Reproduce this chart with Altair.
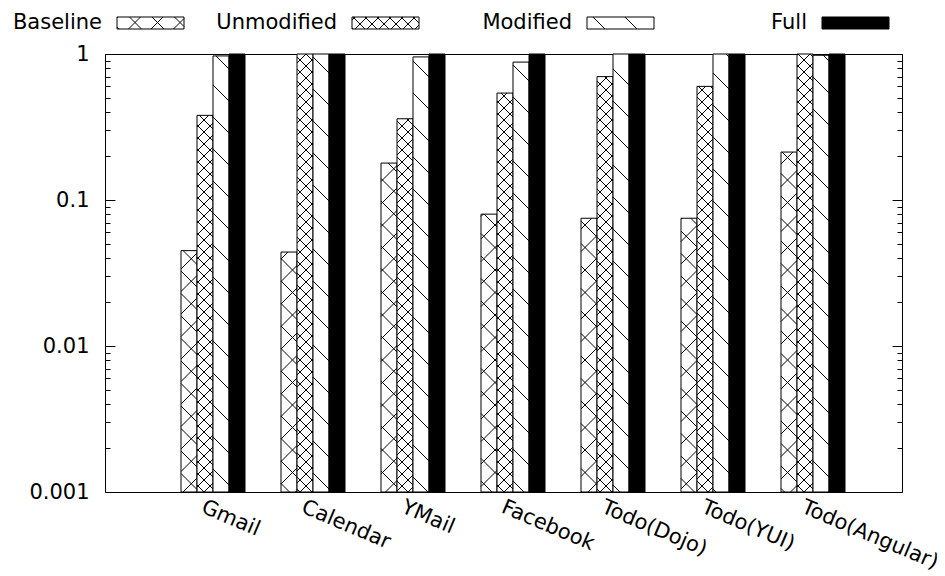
import math
import altair as alt
import pandas as pd

# ---------------- data ----------------
apps = ["Gmail", "Calendar", "YMail", "Facebook", "Todo(Dojo)", "Todo(YUI)", "Todo(Angular)"]
series_names = ["Baseline", "Unmodified", "Modified", "Full"]
baseline = [0.045, 0.044, 0.179, 0.080, 0.075, 0.075, 0.213]
unmodified = [0.38, 1.0, 0.36, 0.54, 0.70, 0.60, 1.0]
modified = [0.97, 1.0, 0.955, 0.88, 1.0, 1.0, 0.98]
full = [1.0, 1.0, 1.0, 1.0, 1.0, 1.0, 1.0]
y_major = [0.001, 0.01, 0.1, 1]
y_minor = [k * d for d in (0.001, 0.01, 0.1) for k in range(2, 10)]

# ---------------- style / layout ----------------
FONT = "DejaVu Sans"
FS = 21
XFS = 21
W, H = 797, 438
PAD = {"left": 105, "top": 54, "right": 43, "bottom": 84}
GROUP_PX = 100.0
XMIN = -1.08
XMAX = XMIN + W / GROUP_PX
DEC = H / 3.0
BAR_W = 0.16
OFFSETS = [-0.24, -0.08, 0.08, 0.24]
PATTERNS = {"Baseline": ("x", 22.5), "Unmodified": ("x", 12.0),
            "Modified": ("\\", 32.0), "Full": ("solid", 0)}
FILLS = {"Baseline": "white", "Unmodified": "white", "Modified": "white", "Full": "black"}
LEG_X0, LEG_STEP, LEG_W, LEG_Y0, LEG_H, LEG_GAP = 12, 235, 67, -37, 12, 15


def to_x(px):
    return XMIN + px / GROUP_PX


def to_y(py):
    return 10 ** (-py / DEC)


def from_x(x):
    return (x - XMIN) * GROUP_PX


def from_y(y):
    return -math.log10(y) * DEC


def hatch_segments(x0, x1, y0, y1, kind, s):
    # x0..y1 in plot pixels; phase anchored to the image origin
    ox, oy = PAD["left"], PAD["top"]
    X0, X1, Y0, Y1 = x0 + ox, x1 + ox, y0 + oy, y1 + oy
    fams = {"x": ["\\", "/"], "\\": ["\\"], "/": ["/"]}.get(kind, [])
    segs = []
    for fam in fams:
        if fam == "\\":
            for k in range(math.floor((Y0 - X1) / s), math.ceil((Y1 - X0) / s) + 1):
                c = k * s
                xa, xb = max(X0, Y0 - c), min(X1, Y1 - c)
                if xb - xa > 0.3:
                    segs.append((xa, xa + c, xb, xb + c))
        else:
            for k in range(math.floor((X0 + Y0) / s), math.ceil((X1 + Y1) / s) + 1):
                c = k * s
                xa, xb = max(X0, c - Y1), min(X1, c - Y0)
                if xb - xa > 0.3:
                    segs.append((xa, c - xa, xb, c - xb))
    return [(to_x(a - ox), to_y(b - oy), to_x(c - ox), to_y(d - oy)) for a, b, c, d in segs]


values = {"Baseline": baseline, "Unmodified": unmodified, "Modified": modified, "Full": full}

bar_rows, hatch_rows = [], []
for i, app in enumerate(apps):
    for j, s in enumerate(series_names):
        v = values[s][i]
        xl = i + OFFSETS[j] - BAR_W / 2
        xr = i + OFFSETS[j] + BAR_W / 2
        bar_rows.append({"app": app, "series": s, "x": xl, "x2": xr, "y": v, "y2": 0.001,
                         "fill": FILLS[s]})
        kind, sp = PATTERNS[s]
        if kind != "solid":
            for a, b, c, d in hatch_segments(from_x(xl), from_x(xr), from_y(v), H, kind, sp):
                hatch_rows.append({"x": a, "y": b, "x2": c, "y2": d})

leg_rows, leg_hatch, leg_text = [], [], []
for j, s in enumerate(series_names):
    lx = LEG_X0 + j * LEG_STEP
    leg_rows.append({"x": to_x(lx), "x2": to_x(lx + LEG_W), "y": to_y(LEG_Y0),
                     "y2": to_y(LEG_Y0 + LEG_H), "fill": FILLS[s]})
    leg_text.append({"x": to_x(lx - LEG_GAP), "y": to_y(LEG_Y0 + LEG_H / 2), "label": s})
    kind, sp = PATTERNS[s]
    if kind != "solid":
        for a, b, c, d in hatch_segments(lx, lx + LEG_W, LEG_Y0, LEG_Y0 + LEG_H, kind, sp):
            leg_hatch.append({"x": a, "y": b, "x2": c, "y2": d})

bars_df = pd.DataFrame(bar_rows)
hatch_df = pd.DataFrame(hatch_rows)
leg_df = pd.DataFrame(leg_rows)
leg_hatch_df = pd.DataFrame(leg_hatch)
leg_text_df = pd.DataFrame(leg_text)
xlab_df = pd.DataFrame({"pos": list(range(len(apps))), "label": apps, "base": [0.001] * len(apps)})

xs = alt.Scale(domain=[XMIN, XMAX], nice=False, zero=False)
ys = alt.Scale(type="log", domain=[0.001, 1], nice=False)

y_label_axis = alt.Axis(orient="left", values=y_major, format="~g", ticks=False, tickSize=0,
                        domain=False, grid=False, labelPadding=16, labelFontSize=FS,
                        labelFont=FONT, labelColor="black", labelOverlap=False,
                        labelFlush=False, title=None)


def tick_axis(orient, vals, size):
    return alt.Axis(orient=orient, offset=-W, values=vals, labels=False, domain=False,
                    grid=False, ticks=True, tickSize=size, tickColor="black", tickWidth=1,
                    title=None)


bars = alt.Chart(bars_df).mark_rect(stroke="black", strokeWidth=1).encode(
    x=alt.X("x:Q", scale=xs, axis=None),
    x2="x2:Q",
    y=alt.Y("y:Q", scale=ys, axis=y_label_axis),
    y2="y2:Q",
    fill=alt.Fill("fill:N", scale=None),
)

hatch = alt.Chart(hatch_df).mark_rule(color="black", strokeWidth=1).encode(
    x=alt.X("x:Q", scale=xs, axis=None),
    x2="x2:Q",
    y=alt.Y("y:Q", scale=ys, axis=tick_axis("right", y_major, 10)),
    y2="y2:Q",
)

legend_boxes = alt.Chart(leg_df).mark_rect(stroke="black", strokeWidth=1).encode(
    x=alt.X("x:Q", scale=xs, axis=None),
    x2="x2:Q",
    y=alt.Y("y:Q", scale=ys, axis=tick_axis("right", y_minor, 5)),
    y2="y2:Q",
    fill=alt.Fill("fill:N", scale=None),
)

legend_hatch = alt.Chart(leg_hatch_df).mark_rule(color="black", strokeWidth=1).encode(
    x=alt.X("x:Q", scale=xs, axis=None),
    x2="x2:Q",
    y=alt.Y("y:Q", scale=ys, axis=tick_axis("left", y_major, 10)),
    y2="y2:Q",
)

legend_text = alt.Chart(leg_text_df).mark_text(
    align="right", baseline="middle", font=FONT, fontSize=FS, color="black"
).encode(
    x=alt.X("x:Q", scale=xs, axis=None),
    y=alt.Y("y:Q", scale=ys, axis=tick_axis("left", y_minor, 5)),
    text="label:N",
)

x_labels = alt.Chart(xlab_df).mark_text(
    align="left", baseline="top", angle=23, dx=-4, dy=6.5, font=FONT, fontSize=XFS, color="black"
).encode(
    x=alt.X("pos:Q", scale=xs, axis=None),
    y=alt.Y("base:Q", scale=ys, axis=None),
    text="label:N",
)

chart = alt.layer(bars, hatch, legend_boxes, legend_hatch, legend_text, x_labels).resolve_axis(
    y="independent"
).properties(
    width=W, height=H,
    autosize=alt.AutoSizeParams(type="none"),
    padding=PAD,
    background="white",
).configure(font=FONT).configure_view(stroke="black", strokeWidth=1)

chart.save("out.html", embed_options={"renderer": "svg", "actions": False})
